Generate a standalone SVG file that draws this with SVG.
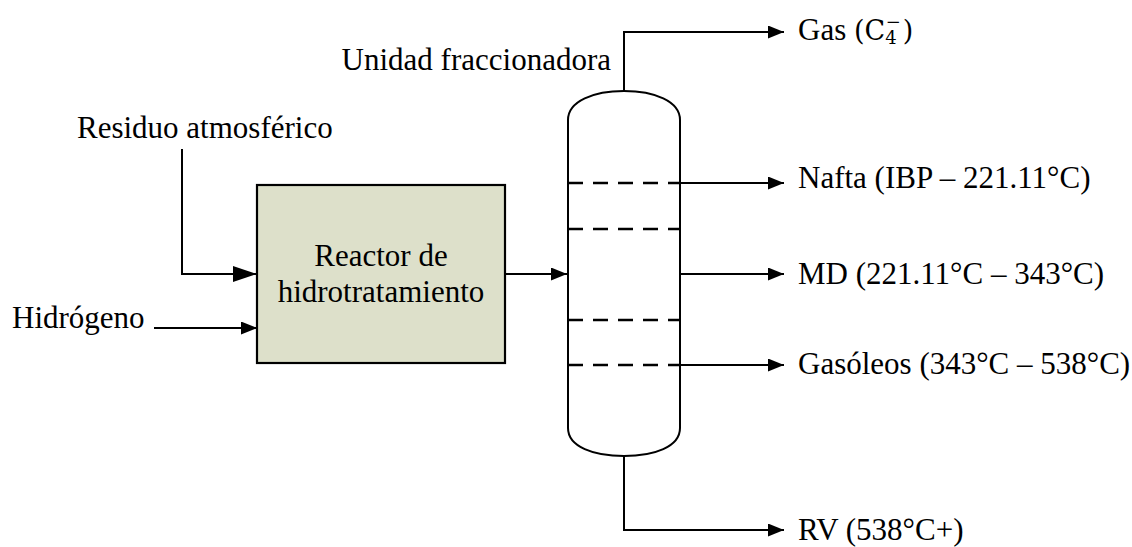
<svg xmlns="http://www.w3.org/2000/svg" width="1132" height="547" viewBox="0 0 1132 547">
<style>
text{font-family:"Liberation Serif","Times New Roman",serif;font-size:31px;fill:#000}
.ln{fill:none;stroke:#000;stroke-width:2}
.dash{fill:none;stroke:#000;stroke-width:2.5;stroke-dasharray:15 10}
</style>
<defs>
<marker id="ah" viewBox="0 0 16 13" refX="16" refY="6.5" markerWidth="16" markerHeight="13" markerUnits="userSpaceOnUse" orient="auto"><path d="M0,0 L16,6.5 L0,13 Z" fill="#000"/></marker>
<marker id="ahL" viewBox="0 0 24 16" refX="24" refY="8" markerWidth="24" markerHeight="16" markerUnits="userSpaceOnUse" orient="auto"><path d="M0,0 L24,8 L0,16 Z" fill="#000"/></marker>
</defs>
<rect width="1132" height="547" fill="#fff"/>
<g id="connectors">
<path class="ln" d="M182,149 V274 H257" marker-end="url(#ahL)"/>
<path class="ln" d="M154,328 H257" marker-end="url(#ah)"/>
<path class="ln" d="M505,274 H567" marker-end="url(#ah)"/>
<path class="ln" d="M624,91 V32 H784" marker-end="url(#ah)"/>
<path class="ln" d="M680,183 H784" marker-end="url(#ah)"/>
<path class="ln" d="M680,274 H784" marker-end="url(#ah)"/>
<path class="ln" d="M680,365 H784" marker-end="url(#ah)"/>
<path class="ln" d="M624,456 V530 H784" marker-end="url(#ah)"/>
</g>
<g id="residuo"><text x="77" y="138">Residuo atmosférico</text></g>
<g id="hidrogeno"><text x="12" y="328">Hidrógeno</text></g>
<g id="reactor">
<rect x="257" y="185" width="248" height="178" fill="#dde0ca" stroke="#000" stroke-width="2.2"/>
<text x="381" y="266" text-anchor="middle">Reactor de</text>
<text x="381" y="302" text-anchor="middle">hidrotratamiento</text>
</g>
<g id="columna">
<path class="ln" d="M568,428 V120 C568,101 594,91 624,91 C654,91 680,101 680,120 V428 C680,447 654,456 624,456 C594,456 568,447 568,428 Z" fill="#fff"/>
<line class="dash" x1="568" y1="183" x2="680" y2="183"/>
<line class="dash" x1="568" y1="229" x2="680" y2="229"/>
<line class="dash" x1="568" y1="320" x2="680" y2="320"/>
<line class="dash" x1="568" y1="365" x2="680" y2="365"/>
<text x="611" y="70" text-anchor="end">Unidad fraccionadora</text>
</g>
<g id="gas"><text x="798" y="40">Gas <tspan font-family="DejaVu Serif, serif" font-size="27">(C</tspan><tspan font-family="DejaVu Serif, serif" font-size="18" dy="4">4</tspan><tspan font-family="DejaVu Serif, serif" font-size="18" dx="-11" dy="-16">−</tspan><tspan font-family="DejaVu Serif, serif" font-size="27" dx="2" dy="12">)</tspan></text></g>
<g id="nafta"><text x="798" y="188">Nafta (IBP – 221.11°C)</text></g>
<g id="md"><text x="798" y="284">MD (221.11°C – 343°C)</text></g>
<g id="gasoleos"><text x="798" y="374">Gasóleos (343°C – 538°C)</text></g>
<g id="rv"><text x="798" y="540">RV (538°C+)</text></g>
</svg>
